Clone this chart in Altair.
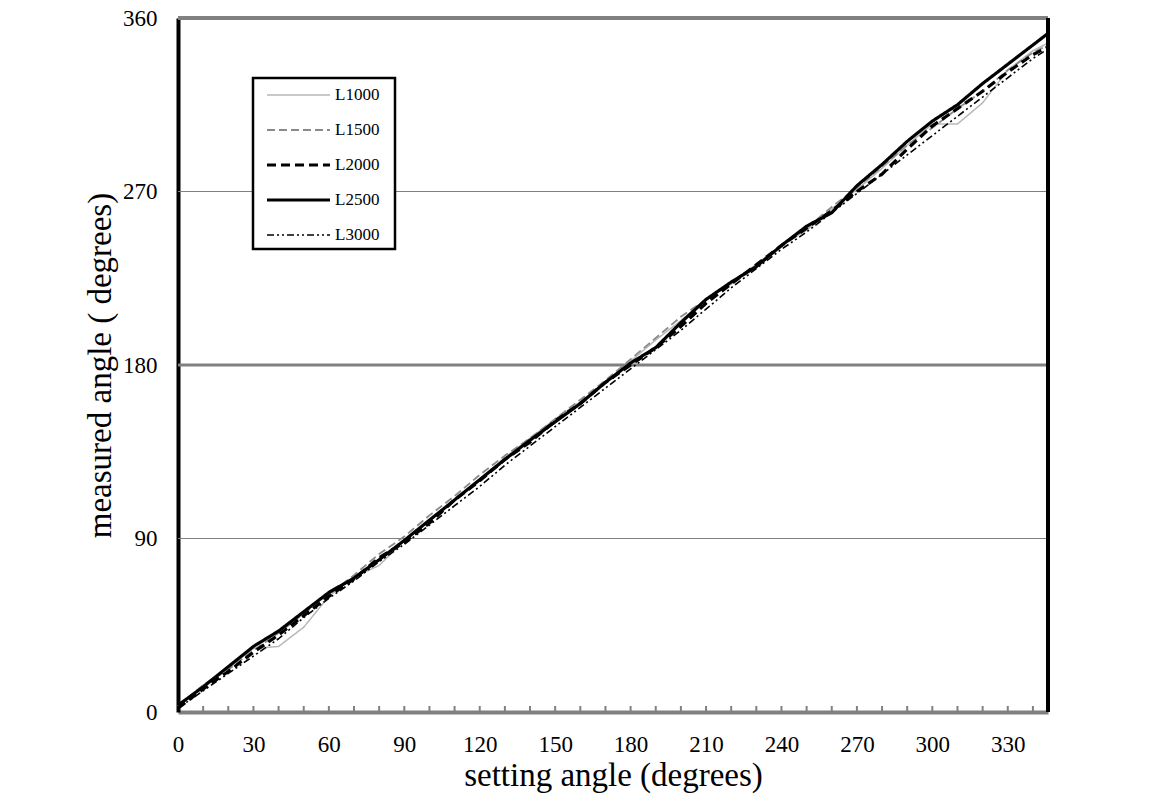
import altair as alt
import pandas as pd

# ---------------- data ----------------
setting = [0, 10, 20, 30, 40, 50, 60, 70, 80, 90, 100, 110, 120, 130, 140, 150,
           160, 170, 180, 190, 200, 210, 220, 230, 240, 250, 260, 270, 280, 290,
           300, 310, 320, 330, 340, 346]

L1000 = [3, 14, 23, 33, 34, 44, 60, 70, 76, 89, 100, 110, 121, 132, 142, 152,
         161, 171, 182, 193, 203, 214, 222, 232, 242, 250, 261, 271, 282, 294,
         305, 305, 316, 333, 343, 347]
L1500 = [3, 14, 22, 32, 41, 51, 61, 71, 82, 91, 102, 112, 123, 133, 142, 152,
         162, 172, 183, 194, 205, 214, 223, 232, 242, 251, 262, 272, 283, 294,
         303, 313, 322, 333, 342, 346]
L2000 = [2, 12, 21, 31, 40, 50, 60, 69, 80, 88, 98, 110, 120, 131, 140, 151,
         160, 171, 180, 189, 200, 212, 222, 232, 242, 251, 260, 270, 279, 292,
         304, 313, 322, 332, 341, 345]
L2500 = [3.5, 13, 23.5, 34, 42, 52, 62, 69.5, 79, 89, 99.5, 110, 120.5, 131, 141, 150.5,
         160, 171, 181, 189, 202, 214, 223, 231, 242, 252, 259, 273, 284, 296,
         306.5, 315, 326, 336, 346, 352]
L3000 = [2, 11, 20, 29, 38, 49, 59, 68, 78, 87, 97, 107, 117, 128, 138, 148,
         158, 168, 178, 188, 198, 209, 220, 230, 240, 249, 259, 269, 279, 289,
         299, 309, 319, 329, 339, 344]

series_names = ["L1000", "L1500", "L2000", "L2500", "L3000"]
series_values = [L1000, L1500, L2000, L2500, L3000]

x_labels = [0, 30, 60, 90, 120, 150, 180, 210, 240, 270, 300, 330]
y_labels = [0, 90, 180, 270, 360]
minor_ticks = [10, 20, 30, 40, 50, 60, 70, 80, 90, 100, 110, 120, 130, 140, 150, 160, 170,
               180, 190, 200, 210, 220, 230, 240, 250, 260, 270, 280, 290, 300, 310, 320,
               330, 340]

rows = []
for name, vals in zip(series_names, series_values):
    for xv, yv in zip(setting, vals):
        rows.append({"setting": xv, "measured": yv, "series": name})
df = pd.DataFrame(rows)
ticks_df = pd.DataFrame({"setting": minor_ticks})

# ---------------- styles ----------------
FONT = "Liberation Serif"
W, H = 870, 694
colors = ["#b8b8b8", "#8a8a8a", "#000000", "#000000", "#000000"]
dashes = [[1, 0], [8, 4], [9, 5], [1, 0], [7, 3, 2, 3, 2, 3]]
widths = [1.5, 1.8, 3.2, 3.2, 1.6]

xscale = alt.Scale(domain=[0, 346], nice=False, zero=False)
yscale = alt.Scale(domain=[0, 360], nice=False)

xaxis = alt.Axis(values=x_labels, ticks=False, grid=False, domainColor="#808080",
                 domainWidth=4, labelFont=FONT, labelFontSize=23, labelColor="black",
                 labelPadding=21, labelFlush=False, titleFont=FONT, titleFontSize=33,
                 titleFontWeight="normal", titleColor="black", titlePadding=3)
yaxis = alt.Axis(values=y_labels, ticks=False, grid=False, domainColor="black",
                 domainWidth=4, labelFont=FONT, labelFontSize=23, labelColor="black",
                 labelPadding=21, titleFont=FONT, titleFontSize=33,
                 titleFontWeight="normal", titleColor="black", titlePadding=5)

X = alt.X("setting:Q", scale=xscale, axis=xaxis, title="setting angle (degrees)")
Y = alt.Y("measured:Q", scale=yscale, axis=yaxis, title="measured angle ( degrees)")

layers = []

# grid lines
layers.append(alt.Chart().mark_rule(color="#808080", strokeWidth=1).encode(y=alt.datum(90, scale=yscale)))
layers.append(alt.Chart().mark_rule(color="#808080", strokeWidth=1).encode(y=alt.datum(270, scale=yscale)))
layers.append(alt.Chart().mark_rule(color="#808080", strokeWidth=3).encode(y=alt.datum(180, scale=yscale)))

# minor ticks on the bottom axis (pointing inward)
layers.append(alt.Chart(ticks_df).mark_rule(color="#808080", strokeWidth=2).encode(
    x=X, y=alt.value(H - 6), y2=alt.value(H)))

# series lines
for name, c, d, w in zip(series_names, colors, dashes, widths):
    layers.append(
        alt.Chart(df).transform_filter(alt.datum.series == name)
        .mark_line(color=c, strokeDash=d, strokeWidth=w, strokeJoin="round")
        .encode(x=X, y=Y, order="setting:Q")
    )

# borders: top gray, right black
layers.append(alt.Chart().mark_rule(color="#808080", strokeWidth=4).encode(y=alt.datum(360, scale=yscale)))
layers.append(alt.Chart().mark_rule(color="black", strokeWidth=4).encode(x=alt.datum(346, scale=xscale)))

# legend box
layers.append(alt.Chart().mark_rect(fill="white", stroke="black", strokeWidth=2.5).encode(
    x=alt.value(75), x2=alt.value(217), y=alt.value(60), y2=alt.value(231)))
for i, (name, c, d, w) in enumerate(zip(series_names, colors, dashes, widths)):
    ly = 77 + 35 * i
    layers.append(alt.Chart().mark_rule(color=c, strokeDash=d, strokeWidth=w).encode(
        x=alt.value(89), x2=alt.value(152), y=alt.value(ly)))
    layers.append(alt.Chart().mark_text(align="left", baseline="middle", font=FONT,
                                        fontSize=17, color="black").encode(
        x=alt.value(157), y=alt.value(ly), text=alt.value(name)))

chart = alt.layer(*layers).properties(
    width=W, height=H,
    padding={"left": 178, "top": 18, "right": 102, "bottom": 86},
    autosize=alt.AutoSizeParams(type="none"),
    background="white",
).configure_view(stroke=None)

chart.save("out.html", embed_options={"renderer": "svg", "actions": False})
